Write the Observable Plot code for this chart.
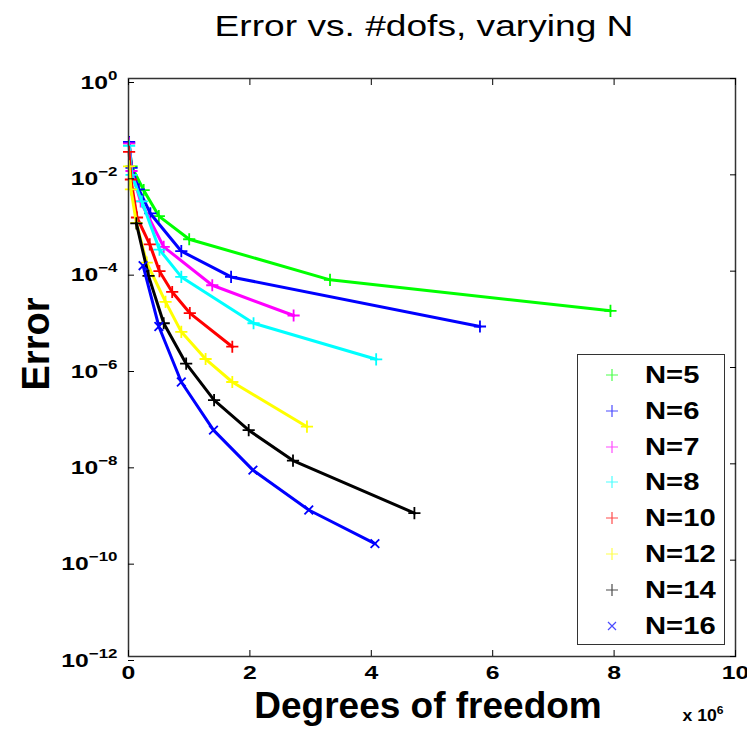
<!DOCTYPE html>
<html><head><meta charset="utf-8">
<script src="https://cdn.jsdelivr.net/npm/d3@7"></script>
<script src="https://cdn.jsdelivr.net/npm/@observablehq/plot@0.6"></script>
<style>
body{margin:0;background:#fff;}
#wrap{position:relative;width:747px;height:732px;font-family:"Liberation Sans",Arial,sans-serif;overflow:hidden}
#legend{position:absolute;left:577px;top:354px;width:148px;height:291px;border:1.5px solid #333;background:#fff;box-sizing:border-box}
.row{position:absolute;left:0;width:100%;height:30px}
.row svg{position:absolute;left:27px;top:8px}
.row span{position:absolute;left:67px;top:1px;font-weight:bold;font-size:23px;line-height:28px;color:#000;transform:scaleX(1.27);transform-origin:0 50%;white-space:nowrap}
</style></head><body><div id="wrap"></div>
<script>
// ---- data (degrees of freedom in units of 10^6) ----
const seriesNames   = ["N=5","N=6","N=7","N=8","N=10","N=12","N=14","N=16"];
const seriesColors  = ["#00ff00","#0000ff","#ff00ff","#00ffff","#ff0000","#ffff00","#000000","#0000ff"];
const seriesSymbols = ["plus","plus","plus","plus","plus","plus","plus","times"];

const dofs_N5  = [0.01, 0.05, 0.25, 0.5, 1.0, 3.32, 7.94];
const err_N5   = [4.5e-2, 1.5e-2, 4.8e-3, 1.39e-3, 4.6e-4, 6.6e-5, 1.5e-5];
const dofs_N6  = [0.01, 0.05, 0.17, 0.36, 0.87, 1.69, 5.79];
const err_N6   = [4.8e-2, 1.4e-2, 5.0e-3, 1.58e-3, 2.6e-4, 7.6e-5, 7.1e-6];
const dofs_N7  = [0.01, 0.05, 0.2, 0.58, 1.38, 2.72];
const err_N7   = [4.5e-2, 1.2e-2, 2.8e-3, 3.2e-4, 5.1e-5, 1.2e-5];
const dofs_N8  = [0.01, 0.05, 0.22, 0.51, 0.87, 2.06, 4.08];
const err_N8   = [4.0e-2, 1.0e-2, 2.8e-3, 2.8e-4, 7.6e-5, 8.3e-6, 1.48e-6];
const dofs_N10 = [0.01, 0.04, 0.14, 0.35, 0.51, 0.72, 1.01, 1.71];
const err_N10  = [3.0e-2, 8.0e-3, 1.3e-3, 3.6e-4, 1.0e-4, 3.7e-5, 1.35e-5, 2.7e-6];
const dofs_N12 = [0.01, 0.04, 0.13, 0.3, 0.61, 0.87, 1.27, 1.71, 2.94];
const err_N12  = [1.5e-2, 5.0e-3, 1.0e-3, 1.5e-4, 2.3e-5, 5.5e-6, 1.5e-6, 5.0e-7, 5.9e-8];
const dofs_N14 = [0.13, 0.33, 0.58, 0.95, 1.41, 1.98, 2.71, 4.71];
const err_N14  = [9.8e-4, 8.0e-5, 8.3e-6, 1.2e-6, 2.1e-7, 5.0e-8, 1.17e-8, 9.5e-10];
const dofs_N16 = [0.24, 0.5, 0.87, 1.40, 2.05, 2.97, 4.06];
const err_N16  = [1.3e-4, 7.1e-6, 5.0e-7, 5.0e-8, 7.4e-9, 1.1e-9, 2.2e-10];

const xTicks = [0, 2, 4, 6, 8, 10];
const yTicks = [1, 1e-2, 1e-4, 1e-6, 1e-8, 1e-10, 1e-12];
const titleText = "Error vs. #dofs, varying N";
const xLabel = "Degrees of freedom";
const yLabel = "Error";
const xMultiplier = "x 10^6";

const allDofs = [dofs_N5, dofs_N6, dofs_N7, dofs_N8, dofs_N10, dofs_N12, dofs_N14, dofs_N16];
const allErr  = [err_N5, err_N6, err_N7, err_N8, err_N10, err_N12, err_N14, err_N16];
const series = seriesNames.map((name, i) => allDofs[i].map((d, j) => ({N: name, dofs: d, err: allErr[i][j]})));

const marks = [];
series.forEach((rows, i) => {
  marks.push(Plot.line(rows, {x: "dofs", y: "err", stroke: seriesColors[i], strokeWidth: 3}));
  marks.push(Plot.dot(rows, {x: "dofs", y: "err", stroke: seriesColors[i], symbol: seriesSymbols[i], r: 4, strokeWidth: 1.8}));
});

const supFmt = d => "10^" + String(Math.round(Math.log10(d))).replace("-", "\u2212");
const tickFont = {fontSize: 19, fontWeight: "bold", fill: "#000"};

const chart = Plot.plot({
  width: 747, height: 732,
  marginLeft: 128, marginRight: 12, marginTop: 78, marginBottom: 76,
  style: {fontFamily: '"Liberation Sans", Arial, sans-serif', background: "#fff", color: "#000"},
  x: {domain: [0, 10]},
  y: {type: "log", domain: [1e-12, 1]},
  marks: [
    ...marks,
    Plot.frame({stroke: "#333", strokeWidth: 1.5}),
    Plot.axisX({anchor: "bottom", ticks: xTicks, tickSize: -6, tickPadding: 15, tickFormat: d => String(d), label: null, ...tickFont}),
    Plot.axisX({anchor: "top", ticks: xTicks, tickSize: -6, tickFormat: () => "", label: null}),
    Plot.axisY({anchor: "left", ticks: yTicks, tickSize: -6, tickPadding: 17, tickFormat: supFmt, label: null, dy: 4, ...tickFont}),
    Plot.axisY({anchor: "right", ticks: yTicks, tickSize: -6, tickFormat: () => "", label: null}),
    Plot.text([titleText], {frameAnchor: "top", lineAnchor: "middle", dx: -8, dy: -52, fontSize: 29, fill: "#000"}),
    Plot.text([yLabel], {frameAnchor: "left", lineAnchor: "middle", rotate: -90, dx: -92, dy: 23, fontSize: 38, fontWeight: "bold", fill: "#000"}),
    Plot.text([xLabel], {frameAnchor: "bottom", lineAnchor: "middle", dx: -4, dy: 50, fontSize: 37, fontWeight: "bold", fill: "#000"}),
    Plot.text([xMultiplier], {frameAnchor: "bottom-right", lineAnchor: "middle", textAnchor: "end", dx: -12, dy: 59, fontSize: 16, fontWeight: "bold", fill: "#000"})
  ]
});

const wrap = document.getElementById("wrap");
wrap.appendChild(chart);

function stretch(el, k) {
  const w = el.getComputedTextLength();
  el.setAttribute("textLength", (w * k).toFixed(1));
  el.setAttribute("lengthAdjust", "spacingAndGlyphs");
}
function superscript(el, supSize, shift) {
  const t = el.textContent;
  if (!t.includes("^")) return;
  const [base, exp] = t.split("^");
  while (el.firstChild) el.removeChild(el.firstChild);
  const a = document.createElementNS("http://www.w3.org/2000/svg", "tspan");
  a.textContent = base;
  const b = document.createElementNS("http://www.w3.org/2000/svg", "tspan");
  b.textContent = exp;
  b.setAttribute("dy", -shift);
  b.setAttribute("font-size", supSize);
  el.appendChild(a); el.appendChild(b);
}
const xTickStrings = xTicks.map(String);
d3.select(chart).selectAll("text").each(function() {
  const t = this.textContent;
  if (/^10\^/.test(t)) { superscript(this, 13, 9); stretch(this, 1.3); }
  else if (/^x 10\^/.test(t)) { superscript(this, 11, 7); stretch(this, 1.1); }
  else if (xTickStrings.includes(t)) { stretch(this, 1.3); }
  else if (t === titleText) { stretch(this, 1.28); }
});

// legend
const legend = d3.select(wrap).append("div").attr("id", "legend");
const rowTops = seriesNames.map((_, i) => 5 + i * 35.8);
seriesNames.forEach((name, i) => {
  const row = legend.append("div").attr("class", "row").style("top", rowTops[i] + "px");
  const s = row.append("svg").attr("width", 14).attr("height", 14);
  const c = seriesColors[i];
  if (seriesSymbols[i] === "plus") {
    s.append("path").attr("d", "M7,1V13M1,7H13").attr("stroke", c).attr("stroke-width", 1.2).attr("opacity", 0.7);
  } else {
    s.append("path").attr("d", "M3,3L11,11M11,3L3,11").attr("stroke", c).attr("stroke-width", 1.2).attr("opacity", 0.7);
  }
  row.append("span").text(name);
});
</script></body></html>
